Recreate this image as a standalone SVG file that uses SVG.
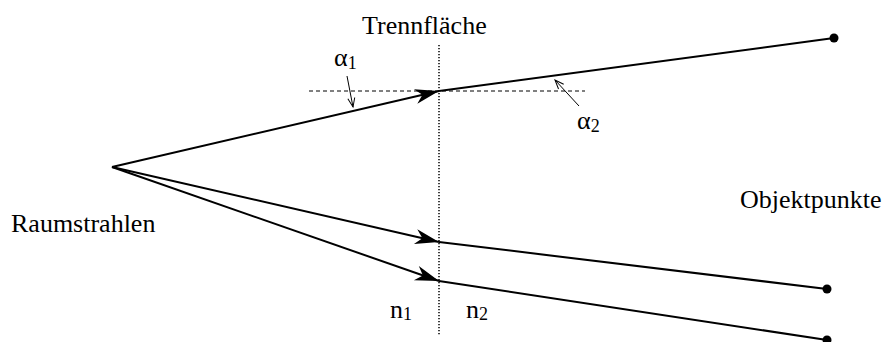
<svg xmlns="http://www.w3.org/2000/svg" width="886" height="342" viewBox="0 0 886 342">
<style>
text{font-family:"Liberation Serif","Times New Roman",serif;fill:#000;font-size:26px}
.sub{font-size:18px}
.ray{stroke:#000;stroke-width:2;fill:none}
.thin{stroke:#000;stroke-width:1;fill:none}
</style>
<defs>
<marker id="ah" markerUnits="userSpaceOnUse" markerWidth="30" markerHeight="20" viewBox="-26 -10 30 20" refX="0" refY="0" orient="auto">
<path d="M0,0 L-24,-7.5 L-17,0 L-24,7.5 Z" fill="#000"/>
</marker>
<marker id="va" markerUnits="userSpaceOnUse" markerWidth="14" markerHeight="12" viewBox="-12 -6 14 12" refX="0" refY="0" orient="auto">
<path d="M-9,-3.5 L0,0 L-9,3.5" fill="none" stroke="#000" stroke-width="1"/>
</marker>
</defs>
<g id="interface">
<line x1="439" y1="45" x2="439" y2="336" stroke="#000" stroke-width="1.5" stroke-dasharray="1.2 1.8"/>
<line x1="309" y1="91" x2="585" y2="91" stroke="#000" stroke-width="1" stroke-dasharray="4 3"/>
</g>
<g id="connectors">
<line class="ray" x1="112" y1="167" x2="439" y2="91" marker-end="url(#ah)"/>
<line class="ray" x1="439" y1="91" x2="834" y2="38"/>
<line class="ray" x1="112" y1="167" x2="439" y2="242" marker-end="url(#ah)"/>
<line class="ray" x1="439" y1="242" x2="827" y2="289"/>
<line class="ray" x1="112" y1="167" x2="439" y2="281" marker-end="url(#ah)"/>
<line class="ray" x1="439" y1="281" x2="827" y2="340"/>
<line class="thin" x1="347" y1="76" x2="353" y2="107" marker-end="url(#va)"/>
<line class="thin" x1="579" y1="106" x2="555" y2="80" marker-end="url(#va)"/>
</g>
<g id="points">
<circle cx="834" cy="38" r="4.5"/>
<circle cx="827" cy="289" r="4.5"/>
<circle cx="827" cy="340" r="4.5"/>
</g>
<g id="labels">
<text x="362" y="34">Trennfläche</text>
<text x="11" y="232">Raumstrahlen</text>
<text x="740" y="208">Objektpunkte</text>
<text x="334" y="66">α<tspan class="sub" dy="3">1</tspan></text>
<text x="577" y="129">α<tspan class="sub" dy="3">2</tspan></text>
<text x="390" y="318">n<tspan class="sub" dy="2">1</tspan></text>
<text x="466" y="318">n<tspan class="sub" dy="2">2</tspan></text>
</g>
</svg>
